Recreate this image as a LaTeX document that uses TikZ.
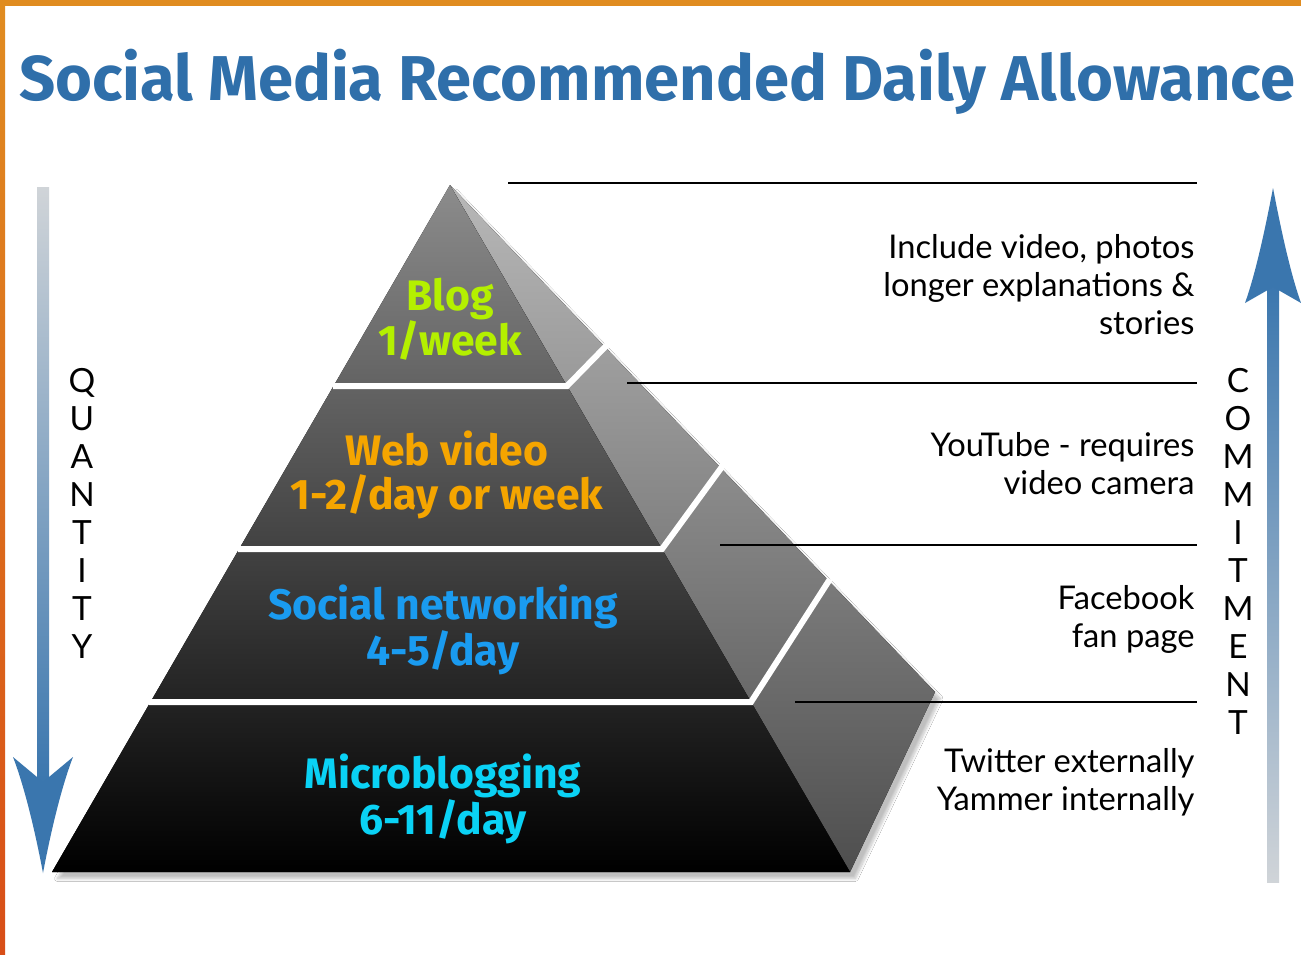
\documentclass[tikz,border=0pt]{standalone}
\usepackage{fontspec}
\setmainfont{Fira Sans}
\newfontfamily\notefont{Lato}
\usetikzlibrary{shadows.blur}

\definecolor{titleblue}{RGB}{47,111,170}
\definecolor{arrowblue}{RGB}{58,118,174}
\definecolor{arrowgrey}{RGB}{208,212,216}
\definecolor{blogcol}{RGB}{180,240,0}
\definecolor{videocol}{RGB}{245,165,0}
\definecolor{socialcol}{RGB}{26,155,240}
\definecolor{microcol}{RGB}{10,210,245}
\definecolor{borderorange}{RGB}{224,140,32}
\definecolor{borderred}{RGB}{216,78,24}
\definecolor{sidetop}{RGB}{184,184,184}
\definecolor{sidebottom}{RGB}{78,78,78}
\definecolor{fronttop}{RGB}{140,140,140}

\tikzset{every picture/.style={line width=0.75pt}}
\tikzset{
  layerlabel/.style={inner sep=0pt, align=center, font=\fontsize{32}{33}\selectfont\bfseries},
  notelabel/.style={anchor=east, inner sep=0pt, align=right, font=\notefont\fontsize{24.5}{28.5}\selectfont},
  spelllabel/.style={inner sep=0pt, align=center, font=\notefont\fontsize{25}{28.5}\selectfont},
  leader/.style={draw=black, line width=1.3pt},
  gap/.style={draw=white, line width=4.5pt, line join=miter},
}

\begin{document}
\begin{tikzpicture}[x=0.75pt,y=0.75pt,yscale=-1,xscale=1]
\useasboundingbox (0,0) rectangle (1301,954);
\fill[white] (0,0) rectangle (1301,954);

%Border
\fill[top color=borderorange, bottom color=borderred] (0,0) rectangle (5,954);
\fill[borderorange] (0,0) rectangle (1301,6);

% Title
\node (title) [text=titleblue, font=\fontsize{47.5}{52}\selectfont\bfseries] at (657,82) {Social Media Recommended Daily Allowance};

%Pyramid corners
\coordinate (apex) at (450,185);
\coordinate (bl) at (52,872);
\coordinate (br) at (850,872);
\coordinate (back) at (935,692);

%Shadow
\path[blur shadow={shadow xshift=4pt, shadow yshift=-5pt, shadow blur steps=10, shadow opacity=25}]
  (apex) -- (back) -- (br) -- (bl) -- cycle;
%Side face
\fill[top color=sidetop, bottom color=sidebottom] (apex) -- (back) -- (br) -- cycle;
%Front face
\fill[top color=fronttop, bottom color=black] (apex) -- (br) -- (bl) -- cycle;

%Layer gaps
\draw[gap] (333,386) -- (567,386) -- (607,345);
\draw[gap] (238,549) -- (662,549) -- (724,464);
\draw[gap] (149,702) -- (751,702) -- (830,579);

% Text Node
\node (blog) [layerlabel, text=blogcol] at (450,319) {Blog\\1/week};
% Text Node
\node (video) [layerlabel, text=videocol] at (447,475) {Web video\\1-2/day or week};
% Text Node
\node (social) [layerlabel, text=socialcol] at (443,630) {Social networking\\4-5/day};
% Text Node
\node (micro) [layerlabel, text=microcol] at (443,799) {Microblogging\\6-11/day};

%Leader lines
\coordinate (l1a) at (508,183);  \coordinate (l1b) at (1197,183);
\coordinate (l2a) at (627,383);  \coordinate (l2b) at (1197,383);
\coordinate (l3a) at (720,545);  \coordinate (l3b) at (1197,545);
\coordinate (l4a) at (795,702);  \coordinate (l4b) at (1197,702);
\draw[leader] (l1a) -- (l1b);
\draw[leader] (l2a) -- (l2b);
\draw[leader] (l3a) -- (l3b);
\draw[leader] (l4a) -- (l4b);

% Text Node
\node (n1) [notelabel] at (1195,285) {Include video, photos\\longer explanations \&\\stories};
% Text Node
\node (n2) [notelabel] at (1195,464) {YouTube - requires\\video camera};
% Text Node
\node (n3) [notelabel] at (1195,619) {Facebook\\fan page};
% Text Node
\node (n4) [notelabel] at (1195,782) {Twitter externally\\Yammer internally};

%Quantity arrow
\fill[top color=arrowgrey, bottom color=arrowblue] (37,187) rectangle (49,785);
\fill[arrowblue] (43,873) .. controls (33,820) and (22,780) .. (13,757) -- (43,782) -- (73,757) .. controls (64,780) and (53,820) .. cycle;
%Commitment arrow
\fill[top color=arrowblue, bottom color=arrowgrey] (1267,280) rectangle (1279,882);
\fill[arrowblue] (1273,188) .. controls (1264,235) and (1255,275) .. (1245,303) -- (1273,287) -- (1301,303) .. controls (1291,275) and (1282,235) .. cycle;

% Text Node
\node (quantity) [spelllabel] at (82,513) {Q\\U\\A\\N\\T\\I\\T\\Y};
% Text Node
\node (commit) [spelllabel] at (1238,551) {C\\O\\M\\M\\I\\T\\M\\E\\N\\T};

\end{tikzpicture}
\end{document}
